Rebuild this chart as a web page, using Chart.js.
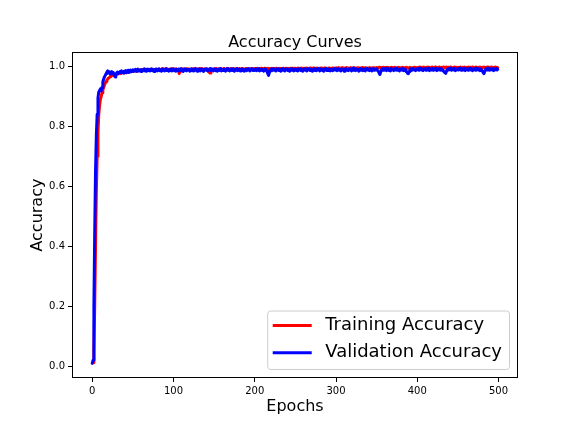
<!DOCTYPE html>
<html>
<head>
<meta charset="utf-8">
<script src="https://cdn.jsdelivr.net/npm/chart.js@4.4.0/dist/chart.umd.min.js"></script>
<style>
  body { margin: 0; background: #fff; }
  #chart { display: block; }
</style>
</head>
<body>
<canvas id="chart" width="576" height="432"></canvas>
<script>
const chartTitle = 'Accuracy Curves';
const xTitle = 'Epochs';
const yTitle = 'Accuracy';
const xTicks = [0, 100, 200, 300, 400, 500];
const yTicks = [0.0, 0.2, 0.4, 0.6, 0.8, 1.0];

// training accuracy, one value per epoch (0-499)
const trainAcc = [
  0.010,0.012,0.050,0.200,0.400,0.580,0.700,0.780,0.840,0.870,
  0.890,0.900,0.912,0.922,0.930,0.938,0.944,0.950,0.954,0.958,
  0.961,0.963,0.966,0.968,0.969,0.971,0.972,0.970,0.973,0.975,
  0.974,0.976,0.975,0.977,0.978,0.976,0.978,0.979,0.980,0.978,
  0.980,0.981,0.979,0.982,0.983,0.981,0.982,0.984,0.983,0.985,
  0.984,0.986,0.985,0.987,0.984,0.986,0.988,0.987,0.985,0.988,
  0.989,0.987,0.988,0.986,0.989,0.990,0.988,0.987,0.989,0.990,
  0.988,0.989,0.991,0.989,0.987,0.990,0.988,0.990,0.991,0.989,
  0.990,0.988,0.991,0.990,0.989,0.991,0.992,0.990,0.989,0.991,
  0.990,0.992,0.989,0.991,0.990,0.988,0.991,0.992,0.990,0.991,
  0.990,0.991,0.989,0.992,0.990,0.988,0.985,0.976,0.984,0.989,
  0.991,0.990,0.992,0.991,0.989,0.990,0.992,0.991,0.990,0.992,
  0.991,0.989,0.990,0.992,0.991,0.993,0.990,0.991,0.989,0.992,
  0.991,0.990,0.992,0.991,0.993,0.990,0.989,0.991,0.992,0.990,
  0.991,0.989,0.987,0.983,0.980,0.978,0.984,0.988,0.990,0.991,
  0.992,0.990,0.991,0.993,0.991,0.990,0.992,0.991,0.993,0.992,
  0.990,0.991,0.993,0.992,0.990,0.991,0.993,0.991,0.992,0.990,
  0.991,0.993,0.992,0.991,0.993,0.990,0.992,0.991,0.993,0.992,
  0.991,0.993,0.990,0.992,0.991,0.993,0.992,0.990,0.991,0.993,
  0.992,0.991,0.993,0.992,0.990,0.992,0.993,0.991,0.992,0.993,
  0.991,0.993,0.992,0.994,0.992,0.991,0.993,0.992,0.994,0.993,
  0.991,0.992,0.994,0.993,0.991,0.992,0.994,0.992,0.993,0.991,
  0.993,0.994,0.992,0.991,0.993,0.992,0.994,0.993,0.992,0.991,
  0.993,0.994,0.992,0.993,0.991,0.994,0.993,0.992,0.994,0.993,
  0.992,0.993,0.991,0.994,0.993,0.992,0.994,0.993,0.991,0.993,
  0.994,0.992,0.993,0.995,0.993,0.992,0.994,0.993,0.995,0.992,
  0.993,0.994,0.992,0.995,0.993,0.994,0.992,0.993,0.995,0.994,
  0.992,0.993,0.995,0.994,0.993,0.992,0.994,0.995,0.993,0.992,
  0.994,0.993,0.995,0.994,0.992,0.993,0.995,0.993,0.994,0.992,
  0.993,0.995,0.994,0.993,0.992,0.994,0.995,0.993,0.994,0.993,
  0.995,0.993,0.994,0.996,0.994,0.993,0.995,0.994,0.996,0.993,
  0.994,0.995,0.993,0.996,0.994,0.995,0.993,0.994,0.996,0.995,
  0.993,0.994,0.996,0.995,0.994,0.993,0.995,0.996,0.994,0.993,
  0.995,0.994,0.996,0.995,0.993,0.994,0.996,0.994,0.995,0.993,
  0.994,0.996,0.995,0.994,0.993,0.995,0.996,0.994,0.995,0.994,
  0.996,0.994,0.995,0.997,0.995,0.994,0.996,0.995,0.997,0.994,
  0.995,0.996,0.994,0.997,0.995,0.996,0.994,0.995,0.997,0.996,
  0.994,0.995,0.997,0.996,0.995,0.994,0.996,0.997,0.995,0.994,
  0.996,0.995,0.997,0.996,0.994,0.995,0.997,0.995,0.996,0.994,
  0.995,0.997,0.996,0.995,0.994,0.996,0.997,0.995,0.996,0.995,
  0.996,0.995,0.997,0.998,0.996,0.995,0.997,0.996,0.998,0.995,
  0.996,0.997,0.995,0.998,0.996,0.997,0.995,0.996,0.998,0.997,
  0.995,0.996,0.998,0.997,0.996,0.995,0.997,0.998,0.996,0.995,
  0.997,0.996,0.998,0.997,0.995,0.996,0.998,0.996,0.997,0.995,
  0.996,0.998,0.997,0.996,0.995,0.997,0.998,0.996,0.997,0.996,
  0.997,0.995,0.996,0.998,0.996,0.995,0.997,0.996,0.998,0.995,
  0.996,0.997,0.995,0.998,0.996,0.997,0.995,0.996,0.998,0.997,
  0.995,0.996,0.998,0.997,0.996,0.995,0.997,0.998,0.996,0.995,
  0.997,0.996,0.998,0.997,0.995,0.996,0.998,0.996,0.997,0.995,
  0.996,0.998,0.997,0.996,0.995,0.997,0.998,0.996,0.997,0.996
];

// validation accuracy, one value per epoch (0-499)
const valAcc = [
  0.010,0.020,0.200,0.450,0.650,0.770,0.840,0.895,0.915,0.920,
  0.925,0.918,0.930,0.948,0.958,0.965,0.970,0.976,0.981,0.985,
  0.978,0.982,0.975,0.980,0.983,0.977,0.979,0.970,0.965,0.972,
  0.978,0.981,0.976,0.980,0.983,0.979,0.985,0.982,0.978,0.984,
  0.981,0.986,0.979,0.983,0.987,0.980,0.984,0.988,0.982,0.986,
  0.989,0.983,0.987,0.990,0.984,0.988,0.991,0.985,0.989,0.987,
  0.983,0.990,0.986,0.988,0.992,0.985,0.989,0.984,0.991,0.987,
  0.990,0.985,0.988,0.992,0.986,0.989,0.983,0.990,0.987,0.991,
  0.985,0.989,0.992,0.986,0.988,0.984,0.991,0.987,0.990,0.985,
  0.989,0.993,0.986,0.988,0.984,0.990,0.987,0.991,0.985,0.989,
  0.992,0.986,0.989,0.984,0.990,0.987,0.991,0.985,0.988,0.993,
  0.986,0.990,0.983,0.989,0.992,0.987,0.985,0.991,0.988,0.990,
  0.984,0.989,0.992,0.986,0.990,0.985,0.988,0.993,0.987,0.984,
  0.990,0.988,0.992,0.985,0.989,0.991,0.986,0.983,0.990,0.988,
  0.992,0.987,0.985,0.990,0.988,0.993,0.986,0.989,0.991,0.985,
  0.989,0.992,0.986,0.990,0.984,0.988,0.991,0.987,0.993,0.985,
  0.989,0.986,0.991,0.988,0.984,0.990,0.993,0.987,0.989,0.985,
  0.991,0.988,0.986,0.992,0.989,0.984,0.990,0.987,0.993,0.986,
  0.989,0.991,0.985,0.988,0.992,0.987,0.990,0.984,0.989,0.991,
  0.986,0.990,0.993,0.987,0.985,0.991,0.988,0.992,0.986,0.990,
  0.988,0.992,0.986,0.990,0.987,0.993,0.985,0.989,0.991,0.986,
  0.990,0.984,0.988,0.992,0.987,0.983,0.976,0.970,0.980,0.988,
  0.991,0.986,0.990,0.993,0.987,0.989,0.985,0.991,0.988,0.992,
  0.986,0.990,0.984,0.989,0.993,0.987,0.990,0.985,0.991,0.988,
  0.992,0.986,0.989,0.984,0.990,0.993,0.987,0.991,0.985,0.989,
  0.992,0.987,0.990,0.985,0.991,0.988,0.993,0.986,0.990,0.984,
  0.989,0.992,0.987,0.991,0.985,0.990,0.993,0.988,0.986,0.991,
  0.989,0.984,0.990,0.992,0.987,0.991,0.986,0.989,0.993,0.988,
  0.985,0.990,0.992,0.987,0.989,0.984,0.991,0.988,0.993,0.986,
  0.990,0.987,0.992,0.985,0.989,0.991,0.986,0.990,0.993,0.988,
  0.991,0.986,0.990,0.993,0.987,0.989,0.985,0.992,0.988,0.990,
  0.984,0.991,0.993,0.987,0.989,0.986,0.992,0.988,0.990,0.985,
  0.991,0.994,0.987,0.989,0.986,0.992,0.988,0.990,0.984,0.991,
  0.993,0.987,0.990,0.986,0.992,0.989,0.985,0.991,0.994,0.988,
  0.990,0.986,0.992,0.989,0.985,0.991,0.993,0.987,0.990,0.988,
  0.992,0.987,0.984,0.978,0.973,0.982,0.989,0.993,0.987,0.991,
  0.988,0.994,0.986,0.990,0.992,0.987,0.991,0.985,0.993,0.989,
  0.990,0.986,0.992,0.988,0.994,0.987,0.991,0.989,0.985,0.992,
  0.990,0.988,0.993,0.986,0.991,0.989,0.984,0.982,0.977,0.976,
  0.983,0.990,0.992,0.987,0.991,0.993,0.988,0.990,0.986,0.992,
  0.989,0.993,0.987,0.991,0.994,0.988,0.990,0.986,0.992,0.989,
  0.993,0.987,0.991,0.988,0.994,0.986,0.990,0.992,0.988,0.993,
  0.987,0.991,0.989,0.994,0.986,0.990,0.992,0.988,0.993,0.987,
  0.991,0.989,0.985,0.982,0.979,0.977,0.984,0.990,0.993,0.988,
  0.991,0.994,0.987,0.990,0.992,0.988,0.993,0.986,0.991,0.989,
  0.993,0.988,0.991,0.994,0.987,0.990,0.992,0.988,0.994,0.986,
  0.991,0.989,0.993,0.987,0.990,0.994,0.988,0.992,0.986,0.991,
  0.989,0.993,0.987,0.991,0.994,0.988,0.990,0.986,0.992,0.989,
  0.984,0.980,0.976,0.983,0.990,0.993,0.988,0.991,0.994,0.987,
  0.990,0.992,0.988,0.993,0.986,0.991,0.989,0.993,0.988,0.990
];

const epochs = trainAcc.map((_, i) => i);

const FONT = '"DejaVu Sans", sans-serif';

// matplotlib-like frame and legend in the lower right corner
const frameAndLegend = {
  id: 'frameAndLegend',
  afterDatasetsDraw(chart) {
    const { ctx, chartArea: a } = chart;
    ctx.save();
    ctx.strokeStyle = '#000';
    ctx.lineWidth = 1;
    ctx.strokeRect(Math.round(a.left) + 0.5, Math.round(a.top) + 0.5,
      Math.round(a.right - a.left) - 1, Math.round(a.bottom - a.top) - 1);
    ctx.restore();
  },
  afterDraw(chart) {
    const { ctx, chartArea: a } = chart;
    const items = chart.data.datasets;
    ctx.save();
    ctx.font = '18px ' + FONT;
    const textW = Math.max(...items.map(d => ctx.measureText(d.label).width));
    const w = 5.5 + 39 + 13.5 + textW + 7;
    const h = 58.5;
    const x0 = a.right - 9 - w;
    const y0 = a.bottom - 9 - h;
    ctx.beginPath();
    ctx.roundRect(x0 + 0.5, y0 + 0.5, w, h, 3);
    ctx.fillStyle = 'rgba(255,255,255,0.8)';
    ctx.fill();
    ctx.strokeStyle = '#cccccc';
    ctx.lineWidth = 1;
    ctx.stroke();
    items.forEach((d, i) => {
      const cy = y0 + 15 + i * 27.3;
      ctx.beginPath();
      ctx.moveTo(x0 + 5.5, cy);
      ctx.lineTo(x0 + 44.5, cy);
      ctx.strokeStyle = d.borderColor;
      ctx.lineWidth = 3;
      ctx.stroke();
      ctx.fillStyle = '#000';
      ctx.textBaseline = 'middle';
      ctx.textAlign = 'left';
      ctx.fillText(d.label, x0 + 58, cy);
    });
    ctx.restore();
  }
};

new Chart(document.getElementById('chart'), {
  type: 'line',
  data: {
    labels: epochs,
    datasets: [
      {
        label: 'Training Accuracy',
        data: trainAcc,
        borderColor: '#ff0000',
        borderWidth: 3,
        borderJoinStyle: 'round',
        borderCapStyle: 'round',
        pointRadius: 0,
        fill: false,
        order: 1
      },
      {
        label: 'Validation Accuracy',
        data: valAcc,
        borderColor: '#0000ff',
        borderWidth: 3,
        borderJoinStyle: 'round',
        borderCapStyle: 'round',
        pointRadius: 0,
        fill: false,
        order: 0
      }
    ]
  },
  options: {
    responsive: false,
    animation: false,
    devicePixelRatio: 1,
    layout: { padding: { left: 0, right: 58, top: 0, bottom: 0 } },
    plugins: {
      legend: { display: false },
      tooltip: { enabled: false },
      title: {
        display: true,
        text: chartTitle,
        fullSize: false,
        color: '#000',
        font: { family: FONT, size: 16, weight: 'normal' },
        padding: { top: 33, bottom: 0 }
      }
    },
    scales: {
      x: {
        type: 'linear',
        min: -24.95,
        max: 523.95,
        afterFit: s => { s.height = 54; },
        afterBuildTicks: s => { s.ticks = xTicks.map(v => ({ value: v })); },
        grid: { drawOnChartArea: false, drawTicks: true, tickLength: 4, color: '#000' },
        border: { display: false },
        ticks: {
          color: '#000',
          padding: 3,
          maxRotation: 0,
          font: { family: FONT, size: 10 },
          callback: v => String(v)
        },
        title: {
          display: true,
          text: xTitle,
          color: '#000',
          font: { family: FONT, size: 16 },
          padding: { top: 0, bottom: 16 }
        }
      },
      y: {
        type: 'linear',
        min: -0.0394,
        max: 1.0474,
        afterFit: s => { s.width = 72; },
        afterBuildTicks: s => { s.ticks = yTicks.map(v => ({ value: v })); },
        grid: { drawOnChartArea: false, drawTicks: true, tickLength: 4, color: '#000' },
        border: { display: false },
        ticks: {
          color: '#000',
          padding: 3,
          font: { family: FONT, size: 10 },
          callback: v => v.toFixed(1)
        },
        title: {
          display: true,
          text: yTitle,
          color: '#000',
          font: { family: FONT, size: 16 },
          padding: { top: 28, bottom: 0 }
        }
      }
    }
  },
  plugins: [frameAndLegend]
});
</script>
</body>
</html>
